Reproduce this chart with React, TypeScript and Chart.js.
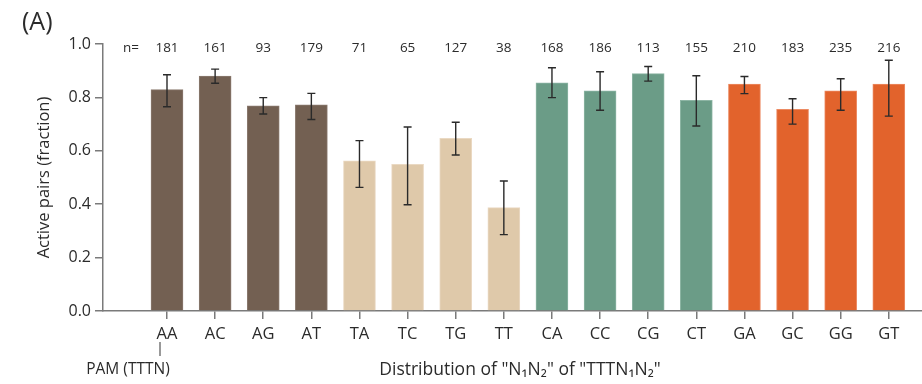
import React, { useEffect, useRef } from "react";
import { Chart, registerables } from "chart.js";

Chart.register(...registerables);

const categories = ["AA", "AC", "AG", "AT", "TA", "TC", "TG", "TT", "CA", "CC", "CG", "CT", "GA", "GC", "GG", "GT"];
const counts = [181, 161, 93, 179, 71, 65, 127, 38, 168, 186, 113, 155, 210, 183, 235, 216];
const activeFraction = [0.829, 0.880, 0.768, 0.772, 0.562, 0.549, 0.647, 0.387, 0.855, 0.825, 0.889, 0.789, 0.850, 0.755, 0.825, 0.850];
const errUpper = [0.885, 0.906, 0.799, 0.815, 0.638, 0.689, 0.707, 0.487, 0.911, 0.896, 0.916, 0.881, 0.878, 0.795, 0.870, 0.939];
const errLower = [0.765, 0.853, 0.738, 0.717, 0.463, 0.398, 0.584, 0.286, 0.799, 0.752, 0.861, 0.693, 0.814, 0.700, 0.752, 0.730];
const groupColors = ["#736052", "#dfc9aa", "#6b9c87", "#e2632c"];
const groupBorders = ["#8a7a6f", "#ead9c3", "#8db5a4", "#ec8b63"];
const yTicks = [0, 0.2, 0.4, 0.6, 0.8, 1.0];

const FONT = "'Open Sans', 'Noto Sans', sans-serif";
const TEXT = "#2b2b2b";
const AXIS = "#7a7a7a";

export default function App() {
  const ref = useRef<HTMLCanvasElement | null>(null);

  useEffect(() => {
    const canvas = ref.current;
    if (!canvas) return;

    const overlay = {
      id: "overlay",
      afterDatasetsDraw(chart: any) {
        const ctx = chart.ctx;
        const xs = chart.scales.x;
        const ys = chart.scales.y;
        ctx.save();
        // error bars
        ctx.strokeStyle = "#2a2a2a";
        ctx.lineWidth = 1.4;
        for (let i = 0; i < categories.length; i++) {
          const x = xs.getPixelForValue(i);
          const yt = ys.getPixelForValue(errUpper[i]);
          const yb = ys.getPixelForValue(errLower[i]);
          ctx.beginPath();
          ctx.moveTo(x, yt);
          ctx.lineTo(x, yb);
          ctx.moveTo(x - 4, yt);
          ctx.lineTo(x + 4, yt);
          ctx.moveTo(x - 4, yb);
          ctx.lineTo(x + 4, yb);
          ctx.stroke();
        }
        // n= counts
        ctx.fillStyle = TEXT;
        ctx.font = `13.5px ${FONT}`;
        ctx.textAlign = "center";
        ctx.textBaseline = "middle";
        ctx.fillText("n=", 131, 48);
        for (let i = 0; i < categories.length; i++) {
          ctx.fillText(String(counts[i]), xs.getPixelForValue(i), 48);
        }
        // panel label
        ctx.font = `25px ${FONT}`;
        ctx.textAlign = "left";
        ctx.textBaseline = "middle";
        ctx.fillText("(A)", 22, 23);
        // PAM annotation
        ctx.font = `15.5px ${FONT}`;
        ctx.textAlign = "center";
        ctx.fillText("PAM (TTTN)", 128, 370);
        ctx.strokeStyle = "#555";
        ctx.lineWidth = 1.2;
        ctx.beginPath();
        ctx.moveTo(160, 342);
        ctx.lineTo(160, 356);
        ctx.stroke();
        // x axis title
        ctx.font = `17.5px ${FONT}`;
        ctx.fillStyle = TEXT;
        ctx.fillText('Distribution of "N₁N₂" of "TTTN₁N₂"', 520, 370);
        ctx.restore();
      },
    };

    const chart = new Chart(canvas, {
      type: "bar",
      data: {
        datasets: [
          {
            data: activeFraction.map((v, i) => ({ x: i, y: v })),
            backgroundColor: categories.map((_, i) => groupColors[Math.floor(i / 4)]),
            borderColor: categories.map((_, i) => groupBorders[Math.floor(i / 4)]),
            borderWidth: 1,
            barThickness: 32,
          },
        ],
      },
      options: {
        animation: false,
        responsive: false,
        maintainAspectRatio: false,
        layout: { padding: { top: 44, right: 0, left: 0, bottom: 0 } },
        plugins: { legend: { display: false }, tooltip: { enabled: false } },
        scales: {
          x: {
            type: "linear",
            offset: false,
            min: -1.33,
            max: 15.69,
            afterBuildTicks: (scale: any) => {
              scale.ticks = categories.map((_, i) => ({ value: i }));
            },
            afterFit: (scale: any) => {
              scale.height = 73;
            },
            ticks: {
              autoSkip: false,
              maxRotation: 0,
              padding: 5,
              color: TEXT,
              font: { family: FONT, size: 16.5 },
              callback: (v: any) => categories[v] ?? "",
            },
            grid: { display: true, offset: false, drawOnChartArea: false, drawTicks: true, tickLength: 8, color: AXIS, lineWidth: 1.5 },
            border: { display: true, color: AXIS, width: 1.5 },
          },
          y: {
            min: 0,
            max: 1.0,
            afterBuildTicks: (scale: any) => {
              scale.ticks = yTicks.map((v) => ({ value: v }));
            },
            afterFit: (scale: any) => {
              scale.width = 103;
            },
            ticks: {
              padding: 4,
              color: TEXT,
              font: { family: FONT, size: 16 },
              callback: (v: any) => Number(v).toFixed(1),
            },
            grid: { display: true, drawOnChartArea: false, drawTicks: true, tickLength: 8, color: AXIS, lineWidth: 1.5 },
            border: { display: true, color: AXIS, width: 1.5 },
            title: {
              display: true,
              text: "Active pairs (fraction)",
              color: TEXT,
              font: { family: FONT, size: 16.5 },
              padding: { top: 34, bottom: 0 },
            },
          },
        },
      },
      plugins: [overlay],
    });

    return () => chart.destroy();
  }, []);

  return (
    <div style={{ position: "fixed", left: 0, top: 0, width: 922, height: 384, background: "#fff" }}>
      <canvas ref={ref} width={922} height={384} style={{ width: 922, height: 384 }} />
    </div>
  );
}
